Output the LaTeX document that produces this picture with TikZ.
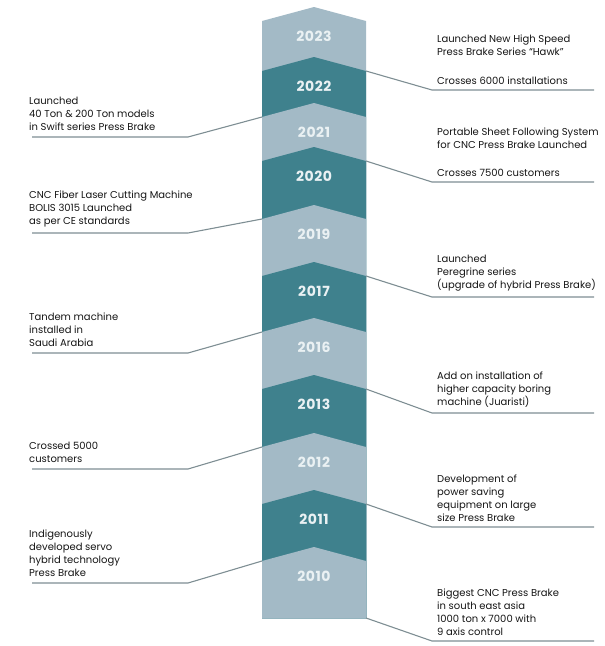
\documentclass[tikz,border=0pt]{standalone}
\usepackage{fontspec}
\setmainfont{Poppins}
\newfontfamily\yearfont[LetterSpace=4]{Poppins}
\definecolor{bandlight}{HTML}{A3BAC6}
\definecolor{banddark}{HTML}{3F818D}
\definecolor{yeartext}{HTML}{EAF1F3}
\definecolor{leadgray}{HTML}{7E8E93}
\definecolor{notetext}{HTML}{151515}
\newlength{\lwidth}
\setlength{\lwidth}{1.1pt}

\begin{document}
\begin{tikzpicture}[x=1pt,y=-1pt,
    year/.style={text=yeartext,font=\yearfont\fontsize{14}{16}\selectfont\bfseries},
    note/.style={text=notetext,font=\fontsize{10}{13}\selectfont,
                 align=left,inner sep=0pt,anchor=south west},
    leader/.style={draw=leadgray,line width=\lwidth}]
  \useasboundingbox (0,0) rectangle (605,646);

  %% column of chevron bands
  %% ------------------------------------
  \pgfmathsetmacro{\colL}{262} \pgfmathsetmacro{\colR}{366}
  \pgfmathsetmacro{\colM}{314} \pgfmathsetmacro{\dep}{14}
  \pgfmathsetmacro{\colB}{618}
  \foreach \tip/\yr/\col in {7/2023/bandlight,57/2022/banddark,103/2021/bandlight,
      147/2020/banddark,205/2019/bandlight,262/2017/banddark,318/2016/bandlight,
      375/2013/banddark,433/2012/bandlight,490/2011/banddark,547/2010/bandlight}{
    \fill[\col] (\colL,\tip+\dep) -- (\colM,\tip) -- (\colR,\tip+\dep)
                -- (\colR,\colB) -- (\colL,\colB) -- cycle;
    \node[year] (y\yr) at (\colM,\tip+29) {\yr};
    \coordinate (el\yr) at (\colL,\tip+\dep);
    \coordinate (er\yr) at (\colR,\tip+\dep);
  }
  \coordinate (ebot) at (\colR,\colB);

  %% right side notes
  %% ------------------------------------
  \coordinate (rb1) at (432,90);  \coordinate (re1) at (594,90);
  \coordinate (rb2) at (432,182); \coordinate (re2) at (594,182);
  \coordinate (rb3) at (432,297); \coordinate (re3) at (594,297);
  \coordinate (rb4) at (432,413); \coordinate (re4) at (594,413);
  \coordinate (rb5) at (432,527); \coordinate (re5) at (594,527);
  \coordinate (rb6) at (432,641); \coordinate (re6) at (594,641);
  \draw[leader] (er2022) -- (rb1) -- (re1);
  \draw[leader] (er2020) -- (rb2) -- (re2);
  \draw[leader] (er2017) -- (rb3) -- (re3);
  \draw[leader] (er2013) -- (rb4) -- (re4);
  \draw[leader] (er2011) -- (rb5) -- (re5);
  \draw[leader] (ebot)   -- (rb6) -- (re6);

  \node[note] (n2022) at ([xshift=5pt,yshift=5.5pt]rb1) {Crosses 6000 installations};
  \node[note] (n2023) at ([yshift=21pt]n2022.north west)
       {Launched New High Speed\\Press Brake Series “Hawk”};
  \node[note] (n2020) at ([xshift=5pt,yshift=5.5pt]rb2) {Crosses 7500 customers};
  \node[note] (n2021) at ([yshift=20pt]n2020.north west)
       {Portable Sheet Following System\\for CNC Press Brake Launched};
  \node[note] (n2017) at ([xshift=5pt,yshift=5.5pt]rb3)
       {Launched\\Peregrine series\\(upgrade of hybrid Press Brake)};
  \node[note] (n2013) at ([xshift=5pt,yshift=5.5pt]rb4)
       {Add on installation of\\higher capacity boring\\machine (Juaristi)};
  \node[note] (n2011) at ([xshift=5pt,yshift=5.5pt]rb5)
       {Development of\\power saving\\equipment on large\\size Press Brake};
  \node[note] (n2010) at ([xshift=5pt,yshift=5.5pt]rb6)
       {Biggest CNC Press Brake\\in south east asia\\1000 ton x 7000 with\\9 axis control};

  %% left side notes
  %% ------------------------------------
  \coordinate (lb1) at (188,137); \coordinate (le1) at (32,137);
  \coordinate (lb2) at (188,233); \coordinate (le2) at (32,233);
  \coordinate (lb3) at (188,353); \coordinate (le3) at (32,353);
  \coordinate (lb4) at (188,469); \coordinate (le4) at (32,469);
  \coordinate (lb5) at (188,583); \coordinate (le5) at (32,583);
  \draw[leader] (el2021) -- (lb1) -- (le1);
  \draw[leader] (el2019) -- (lb2) -- (le2);
  \draw[leader] (el2016) -- (lb3) -- (le3);
  \draw[leader] (el2012) -- (lb4) -- (le4);
  \draw[leader] (el2010) -- (lb5) -- (le5);

  \node[note] (m2021) at ([xshift=-3pt,yshift=6pt]le1)
       {Launched\\40 Ton \& 200 Ton models\\in Swift series Press Brake};
  \node[note] (m2019) at ([xshift=-3pt,yshift=6pt]le2)
       {CNC Fiber Laser Cutting Machine\\BOLIS 3015 Launched\\as per CE standards};
  \node[note] (m2016) at ([xshift=-3pt,yshift=6pt]le3)
       {Tandem machine\\installed in\\Saudi Arabia};
  \node[note] (m2012) at ([xshift=-3pt,yshift=6pt]le4)
       {Crossed 5000\\customers};
  \node[note] (m2010) at ([xshift=-3pt,yshift=6pt]le5)
       {Indigenously\\developed servo\\hybrid technology\\Press Brake};
\end{tikzpicture}
\end{document}
